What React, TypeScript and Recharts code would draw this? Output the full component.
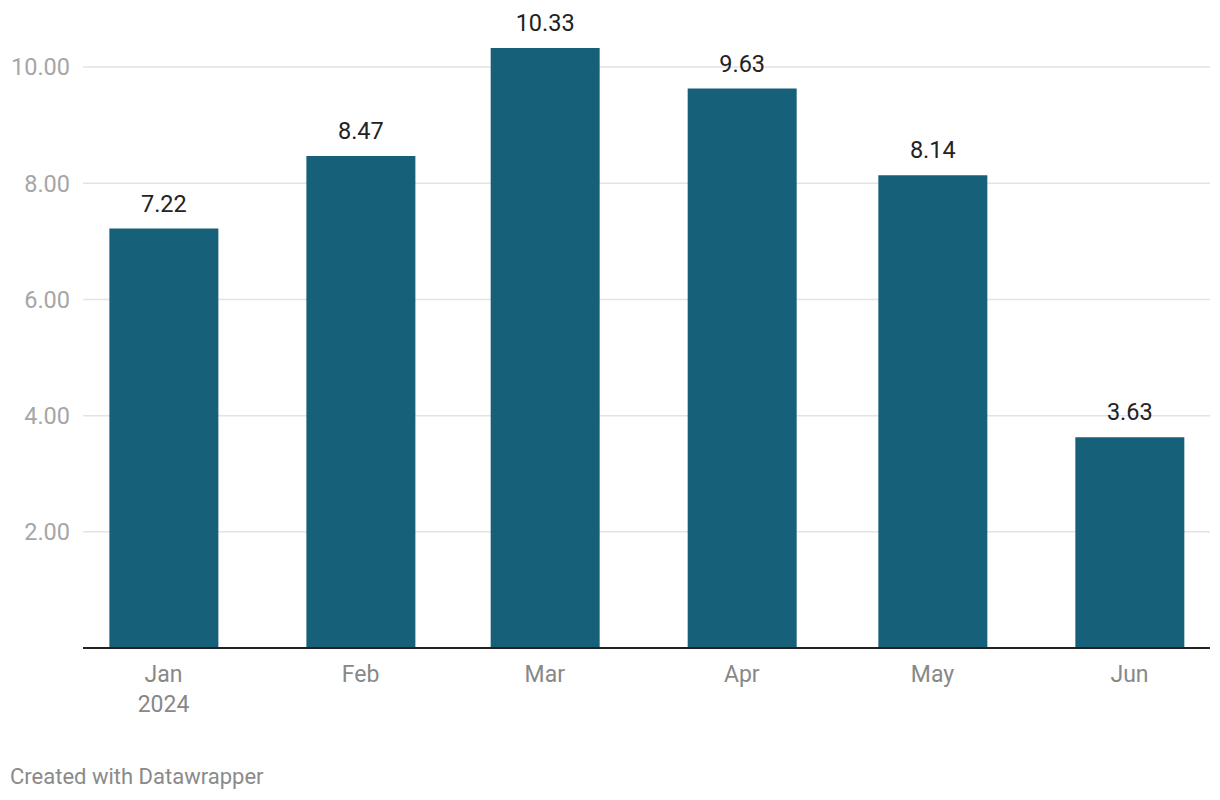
import React from 'react';
import { BarChart, Bar, XAxis, YAxis, CartesianGrid, LabelList } from 'recharts';

const months = ['Jan', 'Feb', 'Mar', 'Apr', 'May', 'Jun'];
const monthStarts = ['2024-01-01', '2024-02-01', '2024-03-01', '2024-04-01', '2024-05-01', '2024-06-01'];
const values = [7.22, 8.47, 10.33, 9.63, 8.14, 3.63];
const yTicks = [2, 4, 6, 8, 10];

const DAY = 86400000;
const origin = Date.parse(monthStarts[0]);

// days since Jan 1 so the bars keep datawrapper's time-based spacing
const data = months.map((m, i) => ({
    month: m,
    day: (Date.parse(monthStarts[i]) - origin) / DAY,
    value: values[i],
}));
const dayTicks = data.map(d => d.day);

const FONT = 'Roboto, "Noto Sans", sans-serif';

const MonthTick = (props: any) => {
    const { x, y, payload } = props;
    const idx = dayTicks.indexOf(payload.value);
    return (
        <text x={x} y={y} textAnchor="middle" fill="#888888" fontSize={23} fontFamily={FONT}>
            <tspan x={x} dy={32}>{months[idx]}</tspan>
            {idx === 0 && <tspan x={x} dy={30}>{monthStarts[0].slice(0, 4)}</tspan>}
        </text>
    );
};

export default function App() {
    return (
        <div style={{ position: 'absolute', left: 0, top: 0, width: 1220, height: 800, background: '#fff', fontFamily: FONT }}>
            <BarChart
                width={1220}
                height={800}
                data={data}
                margin={{ top: 9, right: 10, left: 0, bottom: 0 }}
                barSize={109}
            >
                {/* syncWithTicks: no extra lines at the plot edges */}
                <CartesianGrid vertical={false} syncWithTicks stroke="#e3e3e3" strokeWidth={1.5} />
                <YAxis
                    type="number"
                    domain={[0, 11]}
                    ticks={yTicks}
                    width={83}
                    axisLine={false}
                    tickLine={false}
                    tickSize={0}
                    tickMargin={13}
                    tickFormatter={(v: number) => v.toFixed(2)}
                    tick={{ fill: '#a6a6a6', fontSize: 23.5, fontFamily: FONT }}
                />
                <XAxis
                    dataKey="day"
                    type="number"
                    domain={[-12.67, 164.67]}
                    ticks={dayTicks}
                    interval={0}
                    height={152}
                    axisLine={{ stroke: '#222', strokeWidth: 2 }}
                    tickLine={false}
                    tickSize={0}
                    tick={<MonthTick />}
                />
                <Bar dataKey="value" fill="#17607a" isAnimationActive={false}>
                    <LabelList
                        dataKey="value"
                        position="top"
                        offset={17}
                        formatter={(v: any) => Number(v).toFixed(2)}
                        style={{ fill: '#222', fontSize: 23.5, fontFamily: FONT }}
                    />
                </Bar>
            </BarChart>
            <div style={{ position: 'absolute', left: 10, top: 764, fontSize: 22, color: '#8a8a8a' }}>
                Created with Datawrapper
            </div>
        </div>
    );
}
